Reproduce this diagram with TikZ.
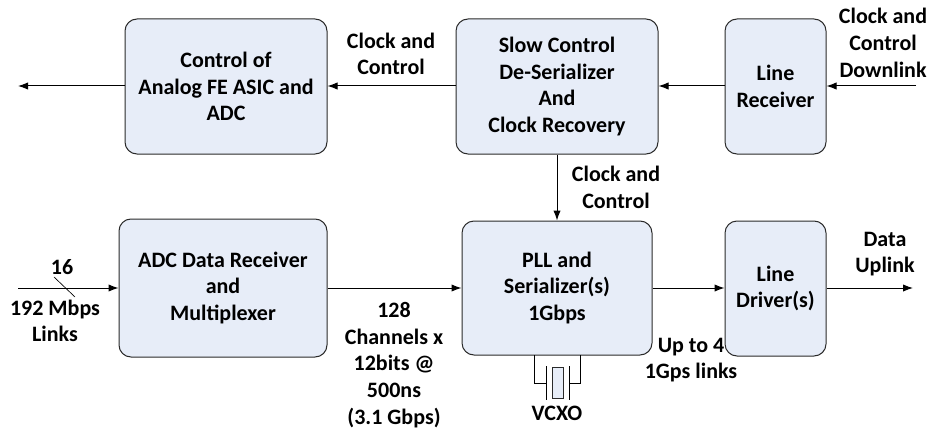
\documentclass[tikz,border=0pt]{standalone}
\usepackage{fontspec}
\setmainfont{Carlito}
\usetikzlibrary{arrows.meta}
\definecolor{boxfill}{HTML}{E7EDF8}
\definecolor{boxline}{HTML}{2A2A2A}
\tikzset{
  block/.style={draw=boxline,fill=boxfill,rounded corners=9pt,line width=.75pt,
    align=center,inner sep=0pt,font=\bfseries\fontsize{16.5pt}{20pt}\selectfont},
  lbl/.style={align=center,inner sep=0pt,font=\bfseries\fontsize{16.5pt}{20pt}\selectfont},
  link/.style={-{Latex[length=7.5pt,width=5.5pt]},line width=.75pt}
}
\begin{document}
\begin{tikzpicture}[x=.75pt,y=-.75pt]
        \useasboundingbox (0,0) rectangle (930,431);

        \begin{scope}[every node/.style={block}]
          \node[minimum width=151.5pt,minimum height=101.25pt] (ctrl) at (226,86.5) {Control of\\Analog FE ASIC and\\ADC};
          \node[minimum width=151.5pt,minimum height=101.25pt] (slow) at (557,86.5) {Slow Control\\De-Serializer\\And\\Clock Recovery};
          \node[minimum width=75.75pt,minimum height=101.25pt] (rx) at (775.5,86.5) {Line\\Receiver};
          \node[minimum width=156pt,minimum height=103.5pt] (adc) at (223,288) {ADC Data Receiver\\and\\Multiplexer};
          \node[minimum width=142.5pt,minimum height=100.5pt] (pll) at (557,288) {PLL and\\Serializer(s)\\1Gbps};
          \node[minimum width=75.75pt,minimum height=101.25pt] (drv) at (775.5,288.5) {Line\\Driver(s)};
        \end{scope}

        \begin{scope}[every node/.style={lbl}]
          \node (l1) at (391,54) {Clock and\\Control};
          \node (l2) at (883,43) {Clock and\\Control\\Downlink};
          \node (l3) at (616,187.5) {Clock and\\Control};
          \node (l4) at (885,254) {Data\\Uplink};
          \node (l5) at (62,267) {16};
          \node (l6) at (55,321) {192 Mbps\\Links};
          \node (l7) at (394,365) {128\\Channels x\\12bits @\\500ns\\(3.1 Gbps)};
          \node (l8) at (691,360) {Up to 4\\1Gps links};
          \node (l9) at (557,413) {VCXO};
        \end{scope}

        \coordinate (in1) at (916,86);
        \coordinate (out1) at (18,86);
        \coordinate (in2) at (18,288);
        \coordinate (out2) at (913,288);
        \coordinate (s1) at (54,277);
        \coordinate (s2) at (75,297);

        \path[link,draw] (in1) -- (rx.east |- in1);
        \path[link,draw] (rx.west |- in1) -- (slow.east |- in1);
        \path[link,draw] (slow.west |- in1) -- (ctrl.east |- in1);
        \path[link,draw] (ctrl.west |- in1) -- (out1);
        \path[link,draw] (slow.south) -- (pll.north);
        \path[link,draw] (in2) -- (adc.west |- in2);
        \path[link,draw] (adc.east |- in2) -- (pll.west |- in2);
        \path[link,draw] (pll.east |- in2) -- (drv.west |- in2);
        \path[link,draw] (drv.east |- in2) -- (out2);
        \draw[line width=.5pt] (s1) -- (s2);

        % crystal
        \coordinate (c1) at (546,383);
        \coordinate (c2) at (569,383);
        \draw[line width=.75pt] (534,355) |- (c1);
        \draw[line width=.75pt] (580,355) |- (c2);
        \draw[line width=.75pt] (546,366) -- (546,400);
        \draw[line width=.75pt] (569,366) -- (569,400);
        \draw[line width=.6pt,draw=boxline,fill=boxfill] (552,367) rectangle (563,398);
\end{tikzpicture}
\end{document}
